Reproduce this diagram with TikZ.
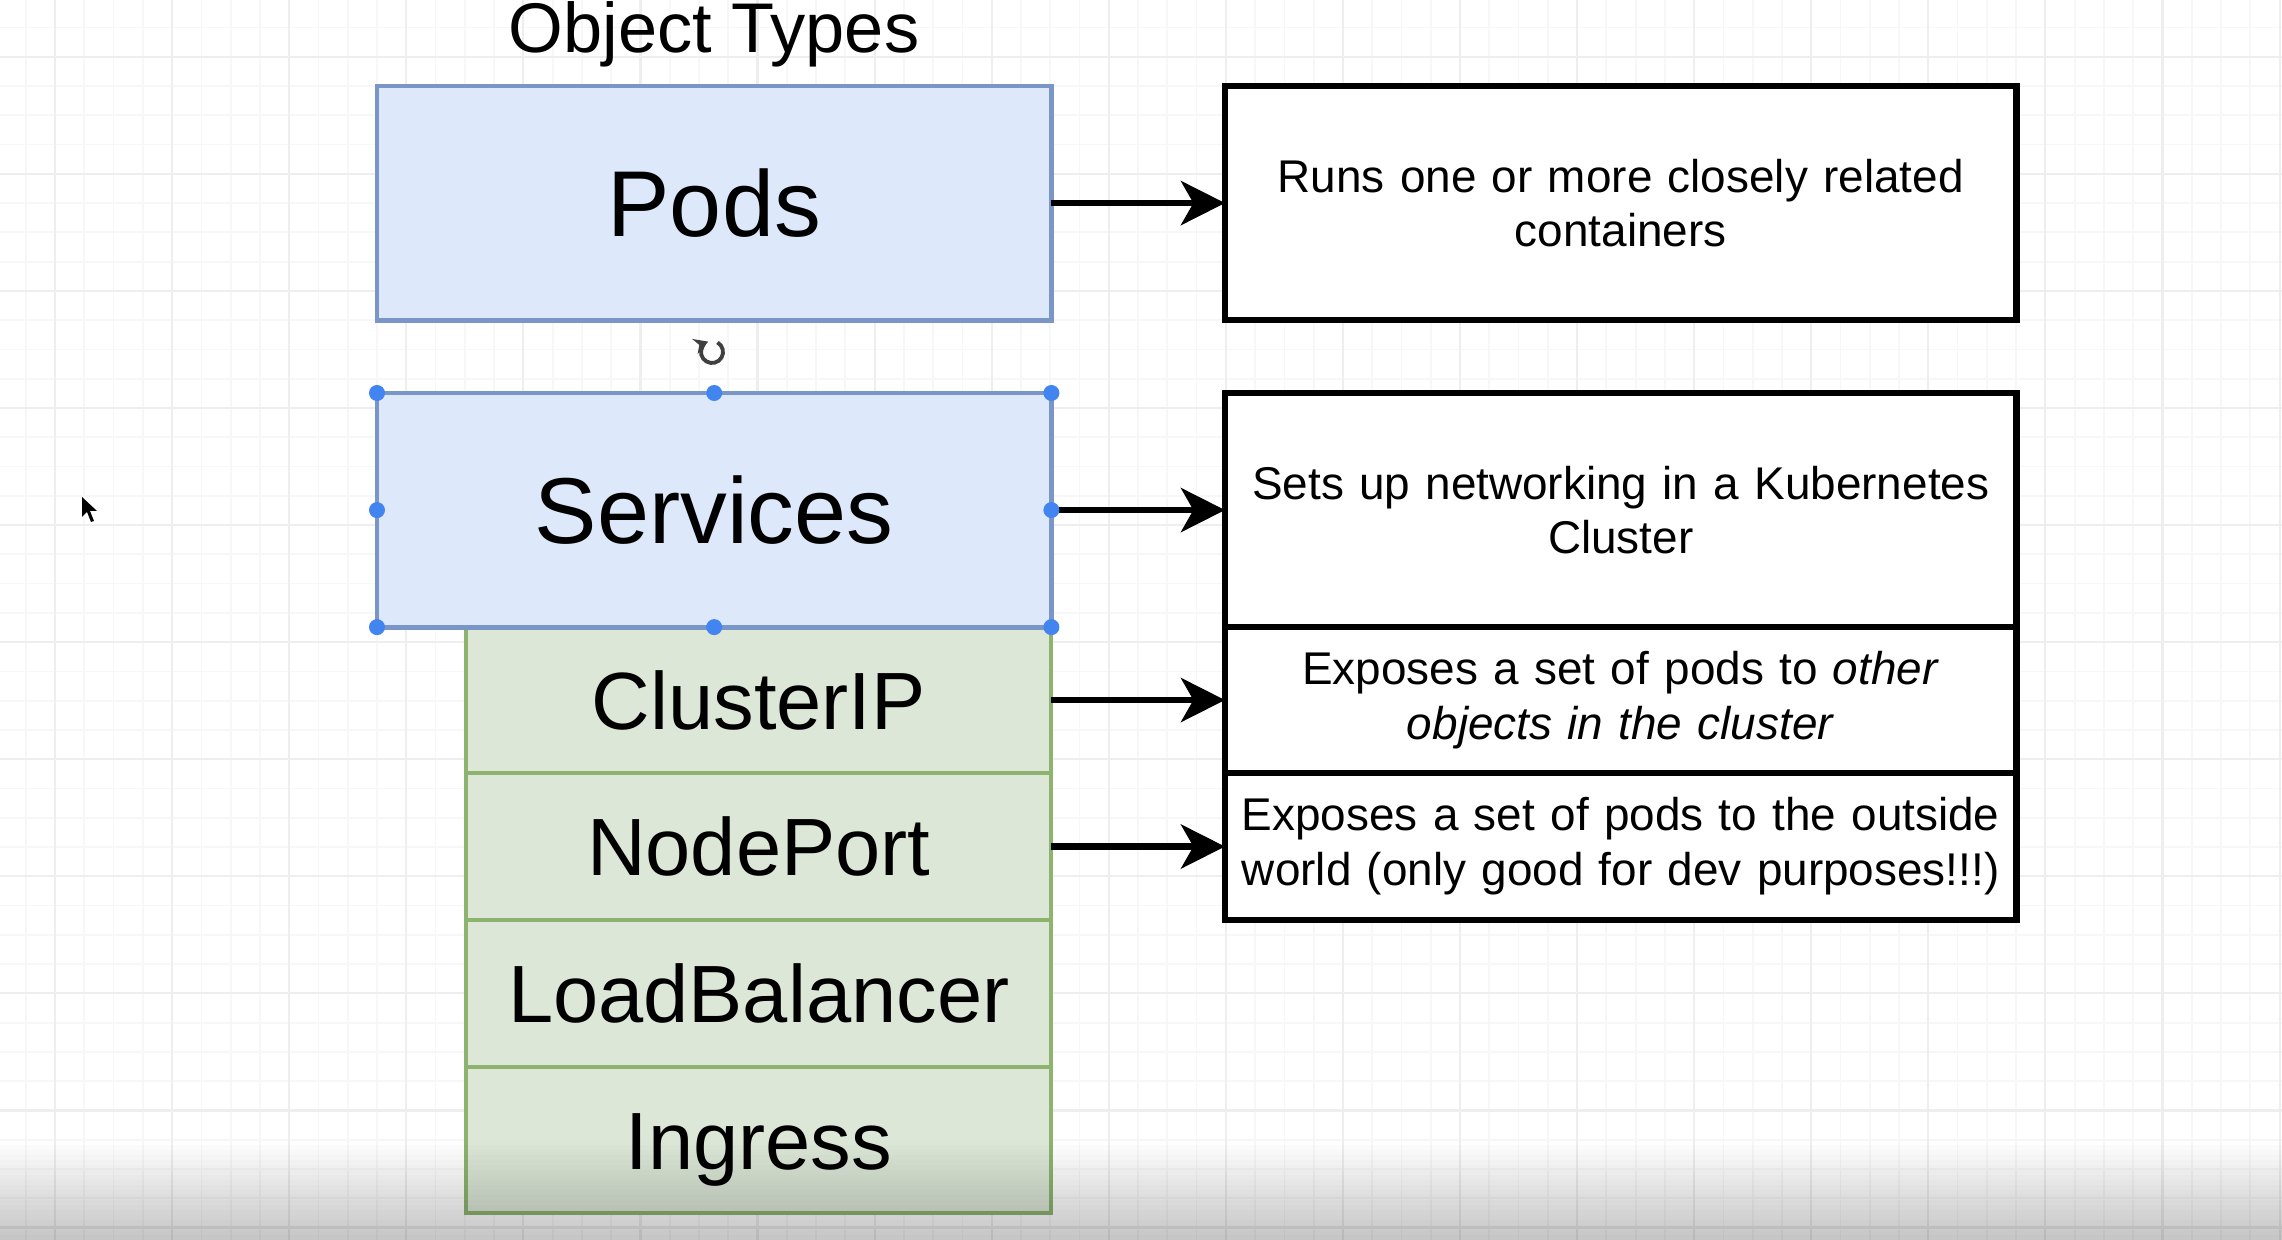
\documentclass[tikz,border=0pt]{standalone}
\usepackage{fontspec}
\setmainfont{Liberation Sans}
\usetikzlibrary{arrows.meta}

\definecolor{bluefill}{RGB}{221,232,250}
\definecolor{blueline}{RGB}{122,150,198}
\definecolor{greenfill}{RGB}{220,231,215}
\definecolor{greenline}{RGB}{140,180,110}
\definecolor{handle}{RGB}{66,133,240}
\definecolor{gridminor}{RGB}{247,247,247}
\definecolor{gridmajor}{RGB}{238,238,238}

\begin{document}
\begin{tikzpicture}[x=0.01cm,y=-0.01cm,
  box/.style={rectangle, inner sep=0pt, outer sep=0pt, anchor=north west},
  bluebox/.style={box, fill=bluefill, draw=blueline, line width=1.4pt,
    minimum width=6.74cm, minimum height=2.34cm,
    font=\fontsize{26.6}{30}\selectfont, text height=19pt, text depth=0pt},
  greenbox/.style={box, fill=greenfill, draw=greenline, line width=1.1pt,
    minimum width=5.85cm, font=\fontsize{23.1}{28}\selectfont,
    text height=16.5pt, text depth=0pt},
  descbox/.style={box, fill=white, draw=black, line width=1.8pt,
    minimum width=7.91cm, text width=7.86cm, align=center,
    font=\fontsize{13.05}{15.6}\selectfont},
  arr/.style={line width=1.9pt, -{Stealth[length=12.5pt,width=12.5pt,inset=3.5pt]}},
  hdl/.style={fill=handle},
]
\useasboundingbox (0,0) rectangle (2282,1240);
\fill[white] (0,0) rectangle (2282,1240);

% grid
\foreach \k in {0,...,78} {
  \draw[gridminor, line width=0.5pt] ({-3.5+29.27*\k},0) -- ({-3.5+29.27*\k},1240);
}
\foreach \k in {0,...,43} {
  \draw[gridminor, line width=0.5pt] (0,{-1.8+29.27*\k}) -- (2282,{-1.8+29.27*\k});
}
\foreach \k in {2,6,...,78} {
  \draw[gridmajor, line width=0.6pt] ({-3.5+29.27*\k},0) -- ({-3.5+29.27*\k},1240);
}
\foreach \k in {2,6,...,42} {
  \draw[gridmajor, line width=0.6pt] (0,{-1.8+29.27*\k}) -- (2282,{-1.8+29.27*\k});
}

% title
\node[font=\fontsize{20}{24}\selectfont, anchor=base, inner sep=0pt] (title) at (714,53) {Object Types};

% left column
\node[bluebox] (pods) at (377,86) {Pods};
\node[greenbox, minimum height=1.46cm] (cip) at (466,627) {ClusterIP};
\node[greenbox, minimum height=1.47cm] (np) at (466,773) {NodePort};
\node[greenbox, minimum height=1.47cm] (lb) at (466,920) {LoadBalancer};
\node[greenbox, minimum height=1.46cm] (ing) at (466,1067) {Ingress};
\node[bluebox] (svc) at (377,393) {Services};

% right column
\node[descbox, minimum height=2.34cm] (dpods) at (1225,86)
  {Runs one or more closely related\\containers};
\node[descbox, minimum height=2.34cm] (dsvc) at (1225,393)
  {Sets up networking in a Kubernetes\\Cluster};
\node[descbox, minimum height=1.46cm] (dcip) at (1225,627)
  {Exposes a set of pods to \textit{other}\\\textit{objects in the cluster}};
\node[descbox, minimum height=1.47cm] (dnp) at (1225,773)
  {Exposes a set of pods to the outside\\world (only good for dev purposes!!!)};

% connectors
\draw[arr] (pods.east) -- (dpods.west);
\draw[arr] (svc.east) -- (dsvc.west);
\draw[arr] (cip.east) -- (dcip.west);
\draw[arr] (np.east) -- (dnp.west);

% selection handles on Services
\foreach \p in {north west,north,north east,west,east,south west,south,south east} {
  \fill[hdl] (svc.\p) circle[radius=0.08cm];
}
% rotate handle
\coordinate (rot) at (712,352);
\draw[black!75, line width=1.1pt, -{Stealth[length=4pt,width=4.5pt]}]
  ([shift={(60:0.11cm)}]rot) arc[start angle=60, end angle=-250, radius=0.11cm];

% mouse cursor
\fill[black] (82,497) -- (82,517) -- (87,512) -- (91,522) -- (94,521) -- (90,511) -- (97,511) -- cycle;

% bottom video shading
\foreach \i in {0,...,19} {
  \fill[black, opacity={0.23*(\i+0.5)/20}] (0,{1140+5*\i}) rectangle (2282,{1145+5*\i});
}
\end{tikzpicture}
\end{document}
